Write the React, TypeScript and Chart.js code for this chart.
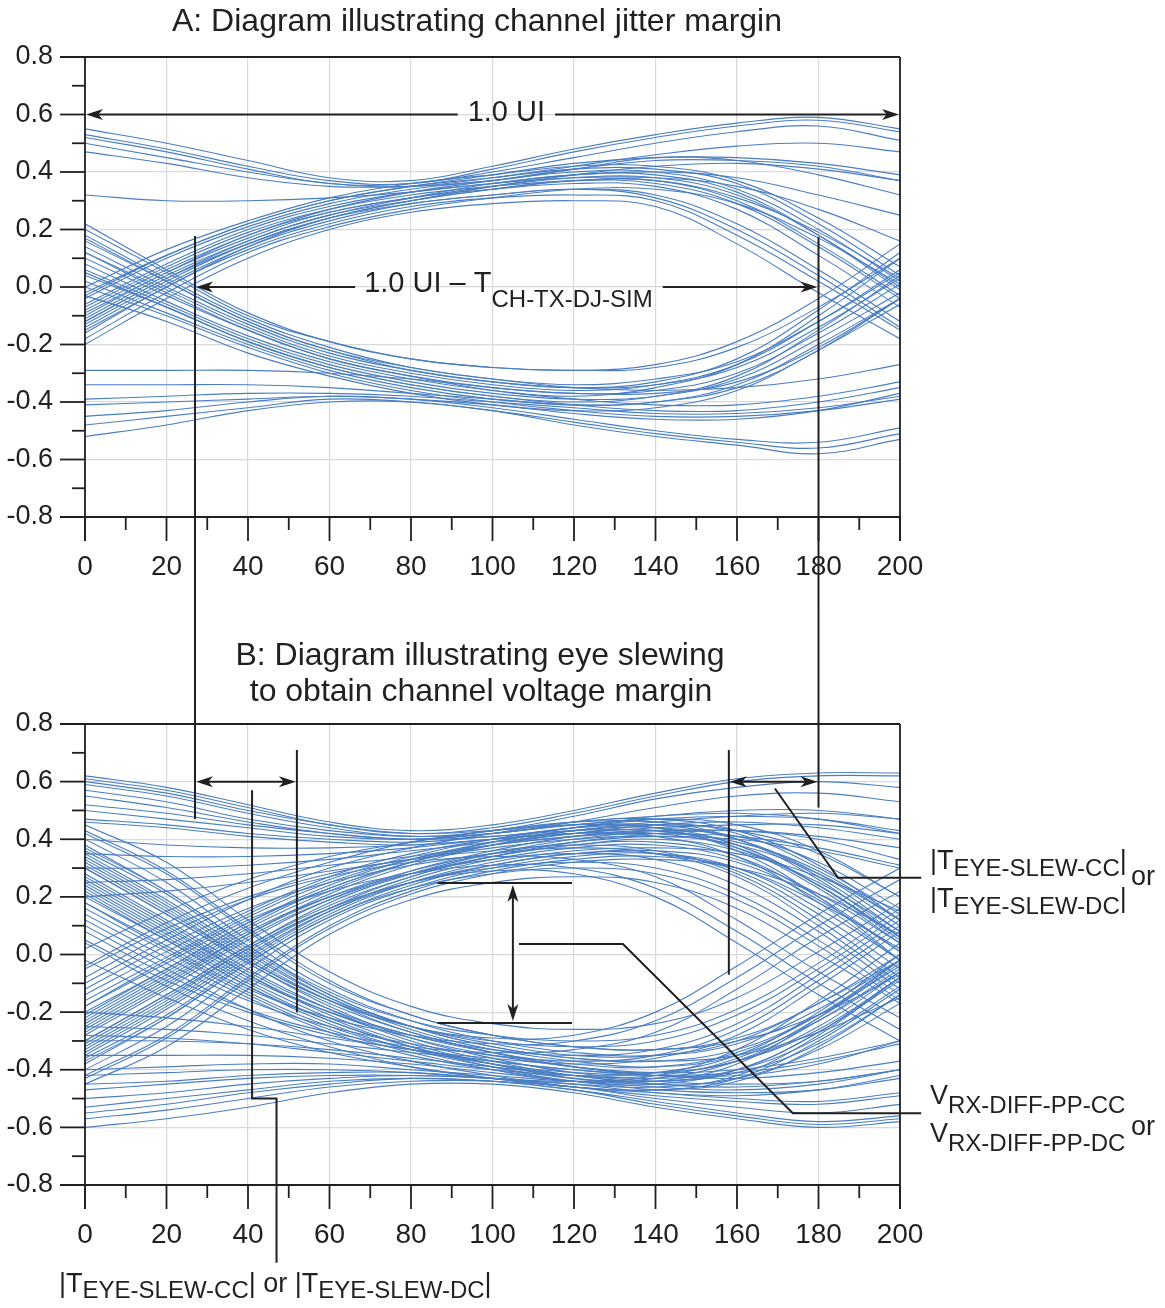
import React, { useEffect, useRef } from "react";
import { Chart, registerables } from "chart.js";

Chart.register(...registerables);

// ---------- data ----------
const xSamples = [0, 20, 40, 60, 80, 100, 120, 140, 160, 180, 200];

const titleA = "A: Diagram illustrating channel jitter margin";
const titleB = ["B: Diagram illustrating eye slewing", "to obtain channel voltage margin"];

// Chart A traces: values at xSamples
const aTopRail = [
  [0.55, 0.50, 0.44, 0.38, 0.37, 0.42, 0.48, 0.53, 0.57, 0.59, 0.55],
  [0.53, 0.48, 0.42, 0.37, 0.36, 0.41, 0.47, 0.52, 0.56, 0.58, 0.54],
  [0.52, 0.47, 0.41, 0.36, 0.36, 0.40, 0.45, 0.50, 0.54, 0.56, 0.51],
  [0.50, 0.45, 0.40, 0.36, 0.35, 0.38, 0.42, 0.46, 0.49, 0.50, 0.47],
  [0.47, 0.43, 0.38, 0.35, 0.35, 0.37, 0.41, 0.45, 0.44, 0.39, 0.32],
  [0.32, 0.30, 0.30, 0.31, 0.33, 0.36, 0.38, 0.38, 0.35, 0.27, 0.16],
];

const aUpperBand = [
  [-0.20, -0.04, 0.10, 0.20, 0.26, 0.29, 0.30, 0.28, 0.15, -0.02, -0.18],
  [-0.16, 0.00, 0.13, 0.22, 0.28, 0.31, 0.32, 0.30, 0.18, 0.02, -0.15],
  [-0.13, 0.02, 0.15, 0.24, 0.29, 0.32, 0.34, 0.32, 0.22, 0.06, -0.12],
  [-0.10, 0.05, 0.17, 0.26, 0.31, 0.34, 0.36, 0.35, 0.27, 0.11, -0.07],
  [-0.07, 0.07, 0.19, 0.27, 0.32, 0.35, 0.37, 0.37, 0.30, 0.15, -0.03],
  [-0.04, 0.10, 0.21, 0.29, 0.34, 0.37, 0.40, 0.40, 0.34, 0.20, 0.02],
  [0.00, 0.13, 0.23, 0.31, 0.36, 0.39, 0.42, 0.42, 0.37, 0.24, 0.07],
  [-0.18, -0.02, 0.12, 0.21, 0.27, 0.31, 0.34, 0.34, 0.29, 0.17, 0.01],
  [-0.12, 0.03, 0.15, 0.24, 0.30, 0.34, 0.37, 0.36, 0.29, 0.14, -0.04],
  [-0.09, 0.05, 0.18, 0.26, 0.31, 0.35, 0.38, 0.38, 0.32, 0.18, 0.00],
  [-0.06, 0.08, 0.20, 0.28, 0.33, 0.36, 0.39, 0.39, 0.33, 0.18, -0.01],
  [-0.14, 0.01, 0.14, 0.23, 0.29, 0.32, 0.34, 0.31, 0.20, 0.04, -0.14],
  [-0.02, 0.11, 0.22, 0.30, 0.35, 0.38, 0.41, 0.41, 0.36, 0.22, 0.04],
  [-0.11, 0.04, 0.16, 0.25, 0.30, 0.34, 0.37, 0.37, 0.31, 0.19, 0.03],
  [-0.15, 0.00, 0.14, 0.24, 0.30, 0.35, 0.39, 0.42, 0.43, 0.41, 0.37],
  [-0.08, 0.06, 0.18, 0.27, 0.33, 0.37, 0.41, 0.44, 0.44, 0.42, 0.37],
  [-0.03, 0.11, 0.22, 0.30, 0.35, 0.39, 0.43, 0.45, 0.45, 0.43, 0.39],
  [-0.12, 0.03, 0.16, 0.25, 0.31, 0.36, 0.39, 0.40, 0.38, 0.32, 0.25],
];

const aLowerBand = [
  [0.22, 0.06, -0.09, -0.19, -0.25, -0.28, -0.29, -0.28, -0.21, -0.07, 0.10],
  [0.18, 0.03, -0.11, -0.21, -0.28, -0.32, -0.34, -0.32, -0.26, -0.12, 0.05],
  [0.14, 0.00, -0.13, -0.23, -0.29, -0.33, -0.35, -0.34, -0.28, -0.14, 0.03],
  [0.10, -0.03, -0.15, -0.25, -0.31, -0.35, -0.37, -0.36, -0.30, -0.16, 0.01],
  [0.06, -0.06, -0.18, -0.27, -0.33, -0.37, -0.39, -0.38, -0.32, -0.18, -0.02],
  [0.02, -0.09, -0.20, -0.29, -0.35, -0.39, -0.41, -0.40, -0.34, -0.20, -0.04],
  [-0.03, -0.12, -0.23, -0.31, -0.37, -0.41, -0.43, -0.42, -0.36, -0.22, -0.06],
  [0.16, 0.02, -0.12, -0.22, -0.29, -0.33, -0.35, -0.33, -0.25, -0.08, 0.12],
  [0.08, -0.05, -0.17, -0.26, -0.32, -0.36, -0.38, -0.35, -0.27, -0.10, 0.10],
  [0.12, -0.01, -0.14, -0.24, -0.30, -0.34, -0.36, -0.34, -0.27, -0.12, 0.06],
  [0.20, 0.05, -0.10, -0.19, -0.25, -0.28, -0.29, -0.27, -0.19, -0.04, 0.15],
  [0.04, -0.07, -0.19, -0.28, -0.34, -0.38, -0.40, -0.38, -0.31, -0.15, 0.04],
  [0.12, -0.02, -0.15, -0.25, -0.31, -0.36, -0.39, -0.41, -0.41, -0.38, -0.33],
  [0.05, -0.07, -0.19, -0.28, -0.34, -0.38, -0.41, -0.43, -0.43, -0.40, -0.35],
  [0.00, -0.10, -0.21, -0.30, -0.36, -0.40, -0.43, -0.45, -0.45, -0.43, -0.39],
  [0.17, 0.02, -0.12, -0.22, -0.28, -0.32, -0.35, -0.36, -0.35, -0.32, -0.27],
];

const aBottomRail = [
  [-0.29, -0.29, -0.29, -0.30, -0.32, -0.35, -0.37, -0.37, -0.33, -0.21, -0.04],
  [-0.34, -0.34, -0.34, -0.35, -0.37, -0.39, -0.41, -0.40, -0.35, -0.22, -0.04],
  [-0.39, -0.38, -0.37, -0.37, -0.38, -0.40, -0.42, -0.44, -0.44, -0.42, -0.38],
  [-0.45, -0.43, -0.40, -0.38, -0.39, -0.42, -0.46, -0.50, -0.53, -0.54, -0.49],
  [-0.48, -0.45, -0.42, -0.39, -0.40, -0.43, -0.47, -0.51, -0.54, -0.56, -0.51],
  [-0.52, -0.48, -0.43, -0.40, -0.40, -0.43, -0.48, -0.52, -0.55, -0.58, -0.53],
  [-0.41, -0.40, -0.39, -0.38, -0.39, -0.41, -0.44, -0.46, -0.46, -0.43, -0.37],
];

// Chart B traces
const bTopRail = [
  [0.62, 0.58, 0.52, 0.46, 0.43, 0.45, 0.50, 0.56, 0.61, 0.63, 0.63],
  [0.61, 0.57, 0.51, 0.45, 0.42, 0.44, 0.49, 0.55, 0.60, 0.62, 0.62],
  [0.59, 0.55, 0.49, 0.44, 0.41, 0.43, 0.48, 0.54, 0.58, 0.60, 0.58],
  [0.57, 0.53, 0.47, 0.43, 0.41, 0.42, 0.46, 0.51, 0.55, 0.56, 0.53],
  [0.52, 0.49, 0.45, 0.42, 0.40, 0.41, 0.44, 0.48, 0.50, 0.50, 0.47],
  [0.50, 0.47, 0.44, 0.41, 0.40, 0.42, 0.45, 0.47, 0.45, 0.36, 0.20],
  [0.47, 0.45, 0.42, 0.40, 0.39, 0.41, 0.43, 0.43, 0.38, 0.24, 0.05],
  [0.46, 0.44, 0.41, 0.39, 0.38, 0.40, 0.42, 0.41, 0.34, 0.18, -0.02],
  [0.55, 0.51, 0.46, 0.42, 0.40, 0.42, 0.45, 0.46, 0.40, 0.26, 0.06],
  [0.60, 0.56, 0.50, 0.45, 0.42, 0.43, 0.45, 0.44, 0.36, 0.20, -0.02],
  [0.40, 0.38, 0.37, 0.37, 0.38, 0.40, 0.43, 0.46, 0.48, 0.49, 0.47],
  [0.30, 0.30, 0.31, 0.33, 0.36, 0.39, 0.42, 0.44, 0.45, 0.45, 0.42],
  [0.25, 0.26, 0.28, 0.31, 0.34, 0.38, 0.41, 0.43, 0.43, 0.40, 0.33],
  [0.20, 0.22, 0.25, 0.29, 0.33, 0.37, 0.40, 0.41, 0.38, 0.28, 0.12],
  [0.35, 0.34, 0.34, 0.35, 0.37, 0.40, 0.42, 0.42, 0.37, 0.24, 0.06],
];

const bUpperBand = [
  [-0.45, -0.32, -0.12, 0.07, 0.19, 0.25, 0.27, 0.25, 0.16, 0.00, -0.17],
  [-0.42, -0.28, -0.08, 0.10, 0.22, 0.29, 0.33, 0.34, 0.30, 0.18, 0.02],
  [-0.40, -0.25, -0.05, 0.12, 0.23, 0.30, 0.34, 0.35, 0.30, 0.16, -0.02],
  [-0.37, -0.22, -0.03, 0.13, 0.24, 0.31, 0.35, 0.36, 0.32, 0.19, 0.01],
  [-0.35, -0.19, -0.01, 0.15, 0.26, 0.33, 0.37, 0.38, 0.33, 0.21, 0.04],
  [-0.33, -0.17, 0.01, 0.16, 0.27, 0.34, 0.38, 0.40, 0.36, 0.25, 0.08],
  [-0.30, -0.14, 0.03, 0.18, 0.28, 0.35, 0.40, 0.42, 0.39, 0.29, 0.12],
  [-0.28, -0.12, 0.05, 0.19, 0.29, 0.36, 0.41, 0.43, 0.41, 0.32, 0.16],
  [-0.26, -0.10, 0.07, 0.21, 0.31, 0.38, 0.43, 0.45, 0.43, 0.35, 0.20],
  [-0.23, -0.07, 0.09, 0.22, 0.32, 0.39, 0.44, 0.45, 0.40, 0.28, 0.10],
  [-0.20, -0.05, 0.11, 0.23, 0.32, 0.38, 0.42, 0.43, 0.37, 0.23, 0.04],
  [-0.16, -0.01, 0.14, 0.26, 0.34, 0.40, 0.44, 0.44, 0.38, 0.24, 0.06],
  [-0.38, -0.22, -0.03, 0.13, 0.23, 0.28, 0.30, 0.28, 0.19, 0.03, -0.16],
  [-0.31, -0.15, 0.02, 0.16, 0.25, 0.30, 0.32, 0.30, 0.21, 0.05, -0.14],
  [-0.24, -0.08, 0.08, 0.20, 0.28, 0.33, 0.35, 0.33, 0.24, 0.08, -0.12],
  [-0.12, 0.03, 0.16, 0.25, 0.31, 0.35, 0.37, 0.35, 0.27, 0.10, -0.10],
  [-0.05, 0.09, 0.20, 0.28, 0.33, 0.36, 0.38, 0.36, 0.28, 0.12, -0.08],
  [-0.34, -0.18, 0.00, 0.15, 0.25, 0.31, 0.35, 0.35, 0.29, 0.14, -0.05],
  [-0.27, -0.11, 0.06, 0.19, 0.28, 0.34, 0.38, 0.39, 0.34, 0.20, 0.01],
  [-0.21, -0.05, 0.11, 0.24, 0.33, 0.39, 0.43, 0.44, 0.40, 0.27, 0.08],
  [-0.10, 0.05, 0.19, 0.30, 0.37, 0.42, 0.46, 0.47, 0.43, 0.31, 0.12],
  [0.02, 0.15, 0.26, 0.34, 0.39, 0.43, 0.46, 0.46, 0.42, 0.30, 0.14],
  [-0.43, -0.29, -0.09, 0.09, 0.21, 0.28, 0.32, 0.33, 0.30, 0.21, 0.07],
  [-0.36, -0.21, -0.02, 0.14, 0.25, 0.32, 0.36, 0.37, 0.35, 0.27, 0.15],
  [-0.30, -0.14, 0.03, 0.17, 0.27, 0.34, 0.39, 0.42, 0.43, 0.41, 0.37],
  [-0.22, -0.06, 0.10, 0.23, 0.32, 0.38, 0.42, 0.45, 0.46, 0.44, 0.40],
  [-0.14, 0.01, 0.15, 0.27, 0.35, 0.40, 0.44, 0.47, 0.48, 0.47, 0.43],
  [-0.04, 0.11, 0.23, 0.32, 0.39, 0.43, 0.46, 0.48, 0.49, 0.47, 0.42],
  [-0.25, -0.09, 0.07, 0.20, 0.29, 0.35, 0.39, 0.41, 0.40, 0.36, 0.30],
  [-0.18, -0.02, 0.13, 0.25, 0.33, 0.38, 0.41, 0.42, 0.41, 0.37, 0.31],
  [-0.32, -0.16, 0.02, 0.16, 0.25, 0.29, 0.28, 0.20, 0.04, -0.14, -0.30],
  [-0.18, -0.03, 0.12, 0.22, 0.28, 0.31, 0.30, 0.23, 0.08, -0.10, -0.26],
  [-0.08, 0.07, 0.19, 0.27, 0.32, 0.34, 0.33, 0.27, 0.12, -0.06, -0.22],
];

const bLowerBand = [
  [0.45, 0.32, 0.12, -0.06, -0.18, -0.24, -0.26, -0.24, -0.15, 0.01, 0.18],
  [0.42, 0.28, 0.08, -0.10, -0.21, -0.28, -0.32, -0.33, -0.29, -0.17, 0.00],
  [0.40, 0.25, 0.05, -0.12, -0.23, -0.30, -0.34, -0.35, -0.31, -0.19, -0.02],
  [0.37, 0.22, 0.03, -0.14, -0.25, -0.32, -0.36, -0.37, -0.33, -0.21, -0.04],
  [0.35, 0.19, 0.01, -0.15, -0.26, -0.33, -0.37, -0.39, -0.35, -0.23, -0.06],
  [0.33, 0.17, -0.01, -0.16, -0.27, -0.34, -0.39, -0.41, -0.37, -0.26, -0.08],
  [0.30, 0.14, -0.03, -0.18, -0.29, -0.36, -0.41, -0.43, -0.40, -0.29, -0.11],
  [0.28, 0.12, -0.05, -0.19, -0.30, -0.37, -0.42, -0.44, -0.41, -0.31, -0.14],
  [0.26, 0.10, -0.07, -0.21, -0.31, -0.38, -0.43, -0.45, -0.43, -0.33, -0.17],
  [0.23, 0.07, -0.09, -0.22, -0.32, -0.39, -0.44, -0.45, -0.40, -0.27, -0.08],
  [0.20, 0.05, -0.11, -0.23, -0.32, -0.38, -0.42, -0.42, -0.36, -0.22, -0.03],
  [0.16, 0.01, -0.14, -0.26, -0.34, -0.40, -0.44, -0.43, -0.37, -0.23, -0.05],
  [0.38, 0.22, 0.03, -0.13, -0.23, -0.28, -0.30, -0.28, -0.19, -0.03, 0.16],
  [0.31, 0.15, -0.02, -0.16, -0.25, -0.30, -0.32, -0.30, -0.21, -0.05, 0.14],
  [0.24, 0.08, -0.08, -0.20, -0.28, -0.33, -0.35, -0.33, -0.24, -0.07, 0.12],
  [0.12, -0.03, -0.16, -0.25, -0.31, -0.35, -0.37, -0.35, -0.26, -0.09, 0.10],
  [0.05, -0.09, -0.20, -0.28, -0.33, -0.36, -0.38, -0.36, -0.28, -0.11, 0.08],
  [0.34, 0.18, 0.00, -0.15, -0.25, -0.31, -0.35, -0.35, -0.30, -0.17, -0.02],
  [0.27, 0.11, -0.06, -0.19, -0.28, -0.34, -0.38, -0.39, -0.34, -0.21, -0.02],
  [0.21, 0.05, -0.11, -0.24, -0.33, -0.39, -0.43, -0.44, -0.40, -0.27, -0.09],
  [0.10, -0.05, -0.19, -0.30, -0.37, -0.42, -0.46, -0.47, -0.44, -0.32, -0.14],
  [-0.02, -0.15, -0.26, -0.34, -0.39, -0.43, -0.46, -0.47, -0.43, -0.30, -0.12],
  [0.43, 0.29, 0.09, -0.09, -0.21, -0.28, -0.32, -0.33, -0.30, -0.21, -0.07],
  [0.36, 0.21, 0.02, -0.14, -0.25, -0.32, -0.36, -0.37, -0.35, -0.27, -0.15],
  [0.30, 0.14, -0.03, -0.17, -0.27, -0.34, -0.39, -0.42, -0.43, -0.41, -0.37],
  [0.22, 0.06, -0.10, -0.23, -0.32, -0.38, -0.42, -0.45, -0.46, -0.44, -0.40],
  [0.14, -0.01, -0.15, -0.27, -0.35, -0.40, -0.44, -0.47, -0.48, -0.47, -0.43],
  [0.04, -0.11, -0.23, -0.32, -0.39, -0.43, -0.46, -0.48, -0.49, -0.47, -0.42],
  [0.25, 0.09, -0.07, -0.20, -0.29, -0.35, -0.39, -0.41, -0.40, -0.36, -0.30],
  [0.18, 0.02, -0.13, -0.25, -0.33, -0.38, -0.41, -0.42, -0.41, -0.37, -0.31],
  [0.32, 0.16, -0.02, -0.16, -0.25, -0.29, -0.28, -0.20, -0.04, 0.14, 0.30],
  [0.18, 0.03, -0.12, -0.22, -0.28, -0.31, -0.30, -0.23, -0.08, 0.10, 0.26],
  [0.08, -0.07, -0.19, -0.27, -0.32, -0.34, -0.33, -0.27, -0.12, 0.06, 0.22],
];

const bBottomRail = [
  [-0.60, -0.57, -0.53, -0.48, -0.45, -0.45, -0.48, -0.53, -0.57, -0.60, -0.58],
  [-0.57, -0.54, -0.50, -0.46, -0.44, -0.44, -0.47, -0.51, -0.55, -0.58, -0.56],
  [-0.53, -0.50, -0.47, -0.44, -0.43, -0.44, -0.46, -0.50, -0.53, -0.55, -0.52],
  [-0.47, -0.45, -0.43, -0.42, -0.42, -0.43, -0.45, -0.48, -0.50, -0.51, -0.48],
  [-0.45, -0.44, -0.42, -0.41, -0.41, -0.43, -0.45, -0.46, -0.42, -0.28, -0.08],
  [-0.42, -0.41, -0.40, -0.40, -0.41, -0.43, -0.44, -0.42, -0.33, -0.16, 0.04],
  [-0.40, -0.39, -0.38, -0.38, -0.40, -0.42, -0.44, -0.44, -0.38, -0.22, -0.02],
  [-0.35, -0.35, -0.35, -0.36, -0.38, -0.41, -0.44, -0.46, -0.47, -0.45, -0.40],
  [-0.30, -0.30, -0.31, -0.33, -0.36, -0.39, -0.42, -0.44, -0.45, -0.44, -0.40],
  [-0.25, -0.26, -0.28, -0.31, -0.34, -0.37, -0.40, -0.42, -0.42, -0.38, -0.30],
  [-0.55, -0.52, -0.48, -0.45, -0.43, -0.44, -0.47, -0.52, -0.56, -0.59, -0.57],
  [-0.50, -0.48, -0.45, -0.43, -0.42, -0.43, -0.46, -0.49, -0.51, -0.52, -0.49],
  [-0.20, -0.22, -0.25, -0.29, -0.33, -0.37, -0.40, -0.41, -0.37, -0.25, -0.06],
  [-0.28, -0.29, -0.31, -0.34, -0.37, -0.40, -0.42, -0.41, -0.35, -0.20, 0.00],
];

// ---------- styles ----------
const INK = "#231f20";
const TRACE = "#4a7ec3";
const GRID = "#d9d9d9";
const FAMILY = '"Liberation Sans", Arial, Helvetica, sans-serif';
const font = (s: number) => `${s}px ${FAMILY}`;
const B_TOP = 610;

type Part = { t: string; sub?: boolean };

function seg(ctx: CanvasRenderingContext2D, pts: number[][]) {
  ctx.beginPath();
  ctx.moveTo(pts[0][0], pts[0][1]);
  for (let i = 1; i < pts.length; i++) ctx.lineTo(pts[i][0], pts[i][1]);
  ctx.stroke();
}

function head(ctx: CanvasRenderingContext2D, tx: number, ty: number, dx: number, dy: number) {
  const L = 17, W = 5.5;
  const bx = tx - dx * L, by = ty - dy * L;
  const nx = -dy, ny = dx;
  ctx.beginPath();
  ctx.moveTo(tx, ty);
  ctx.lineTo(bx + nx * W, by + ny * W);
  ctx.lineTo(tx - dx * L * 0.72, ty - dy * L * 0.72);
  ctx.lineTo(bx - nx * W, by - ny * W);
  ctx.closePath();
  ctx.fill();
}

function dbl(ctx: CanvasRenderingContext2D, x1: number, y1: number, x2: number, y2: number) {
  const len = Math.hypot(x2 - x1, y2 - y1);
  const dx = (x2 - x1) / len, dy = (y2 - y1) / len;
  seg(ctx, [[x1 + dx * 8, y1 + dy * 8], [x2 - dx * 8, y2 - dy * 8]]);
  head(ctx, x2, y2, dx, dy);
  head(ctx, x1, y1, -dx, -dy);
}

function rich(ctx: CanvasRenderingContext2D, x: number, y: number, parts: Part[], main: number, sub: number, subDy: number, measureOnly = false) {
  let cx = x;
  ctx.textAlign = "left";
  ctx.textBaseline = "alphabetic";
  for (const p of parts) {
    ctx.font = font(p.sub ? sub : main);
    if (!measureOnly) ctx.fillText(p.t, cx, p.sub ? y + subDy : y);
    cx += ctx.measureText(p.t).width;
  }
  return cx - x;
}

function drawFrame(chart: any) {
  const ctx: CanvasRenderingContext2D = chart.ctx;
  const { left, right, top, bottom } = chart.chartArea;
  const sx = (v: number) => chart.scales.x.getPixelForValue(v);
  const sy = (v: number) => chart.scales.y.getPixelForValue(v);
  ctx.save();
  ctx.strokeStyle = INK;
  ctx.lineWidth = 1.8;
  ctx.lineCap = "butt";
  seg(ctx, [[left - 25, top], [right, top]]);
  seg(ctx, [[left - 25, bottom], [right, bottom]]);
  seg(ctx, [[left, top], [left, bottom + 24]]);
  seg(ctx, [[right, top], [right, bottom + 24]]);
  for (let k = -8; k <= 8; k++) {
    const py = sy(k / 10);
    seg(ctx, [[left - (k % 2 === 0 ? 25 : 13), py], [left, py]]);
  }
  for (let k = 0; k <= 20; k++) {
    const px = sx(k * 10);
    seg(ctx, [[px, bottom], [px, bottom + (k % 2 === 0 ? 24 : 13)]]);
  }
  ctx.restore();
}

function decorateA(chart: any) {
  const ctx: CanvasRenderingContext2D = chart.ctx;
  const sx = (v: number) => chart.scales.x.getPixelForValue(v);
  const sy = (v: number) => chart.scales.y.getPixelForValue(v);
  drawFrame(chart);
  ctx.save();
  ctx.fillStyle = INK;
  ctx.strokeStyle = INK;
  ctx.lineWidth = 2;
  // title
  ctx.font = font(32);
  ctx.textAlign = "center";
  ctx.textBaseline = "alphabetic";
  ctx.fillText(titleA, 477, 31);

  // 1.0 UI arrow
  const yUI = sy(0.6);
  const uiParts: Part[] = [{ t: "1.0 UI" }];
  const wUI = rich(ctx, 0, 0, uiParts, 29, 24, 0, true);
  const cUI = sx(103.4);
  rich(ctx, cUI - wUI / 2, yUI + 6, uiParts, 29, 24, 0);
  seg(ctx, [[sx(0) + 8, yUI], [cUI - wUI / 2 - 10, yUI]]);
  seg(ctx, [[cUI + wUI / 2 + 10, yUI], [sx(200) - 8, yUI]]);
  head(ctx, sx(0) + 1, yUI, -1, 0);
  head(ctx, sx(200) - 1, yUI, 1, 0);

  // 1.0 UI - T_CH-TX-DJ-SIM arrow
  const y0 = sy(0);
  const djParts: Part[] = [{ t: "1.0 UI \u2013 T" }, { t: "CH-TX-DJ-SIM", sub: true }];
  const x0 = sx(68.5);
  const wDJ = rich(ctx, x0, y0 + 5, djParts, 29, 24, 15);
  seg(ctx, [[sx(27) + 8, y0], [x0 - 9, y0]]);
  seg(ctx, [[x0 + wDJ + 10, y0], [sx(180) - 8, y0]]);
  head(ctx, sx(27) + 1, y0, -1, 0);
  head(ctx, sx(180) - 1, y0, 1, 0);

  // markers running down into chart B
  seg(ctx, [[sx(27), sy(0.177)], [sx(27), chart.height]]);
  seg(ctx, [[sx(180), sy(0.174)], [sx(180), chart.height]]);
  ctx.restore();
}

function decorateB(chart: any) {
  const ctx: CanvasRenderingContext2D = chart.ctx;
  const sx = (v: number) => chart.scales.x.getPixelForValue(v);
  const sy = (v: number) => chart.scales.y.getPixelForValue(v);
  drawFrame(chart);
  ctx.save();
  ctx.fillStyle = INK;
  ctx.strokeStyle = INK;
  ctx.lineWidth = 2;
  // title
  ctx.font = font(32);
  ctx.textAlign = "center";
  ctx.textBaseline = "alphabetic";
  ctx.fillText(titleB[0], 480, 665 - B_TOP);
  ctx.fillText(titleB[1], 481, 701 - B_TOP);

  // markers from chart A
  seg(ctx, [[sx(27), 0], [sx(27), sy(0.47)]]);
  seg(ctx, [[sx(180), 0], [sx(180), sy(0.51)]]);

  // left slew
  dbl(ctx, sx(27) + 1, sy(0.6), sx(52) - 1, sy(0.6));
  seg(ctx, [[sx(52), sy(0.71)], [sx(52), sy(-0.2)]]);
  seg(ctx, [[sx(41), sy(0.57)], [sx(41), sy(-0.5)], [sx(47), sy(-0.5)], [sx(47), sy(-1.07)]]);

  // right slew
  dbl(ctx, sx(158) + 1, sy(0.6), sx(180) - 1, sy(0.6));
  seg(ctx, [[sx(158), sy(0.71)], [sx(158), sy(-0.07)]]);
  seg(ctx, [[sx(169.3), sy(0.576)], [sx(184.8), sy(0.266)], [sx(205.2), sy(0.266)]]);

  // eye height
  seg(ctx, [[sx(86.5), sy(0.248)], [sx(119.5), sy(0.248)]]);
  seg(ctx, [[sx(86.5), sy(-0.238)], [sx(119.5), sy(-0.238)]]);
  dbl(ctx, sx(105), sy(0.248) + 2, sx(105), sy(-0.238) - 2);
  seg(ctx, [[sx(106.5), sy(0.0365)], [sx(132), sy(0.0365)], [sx(173.7), sy(-0.551)], [sx(205.2), sy(-0.551)]]);

  // labels
  const lx = 930;
  rich(ctx, lx, 869 - B_TOP, [{ t: "|T" }, { t: "EYE-SLEW-CC", sub: true }, { t: "|" }], 27, 24, 7);
  rich(ctx, lx, 907 - B_TOP, [{ t: "|T" }, { t: "EYE-SLEW-DC", sub: true }, { t: "|" }], 27, 24, 7);
  rich(ctx, 1131, 885 - B_TOP, [{ t: "or" }], 27, 24, 0);

  rich(ctx, lx, 1104 - B_TOP, [{ t: "V" }, { t: "RX-DIFF-PP-CC", sub: true }], 27, 24, 9);
  rich(ctx, lx, 1142 - B_TOP, [{ t: "V" }, { t: "RX-DIFF-PP-DC", sub: true }], 27, 24, 9);
  rich(ctx, 1131, 1135 - B_TOP, [{ t: "or" }], 27, 24, 0);

  rich(
    ctx,
    59,
    1292 - B_TOP,
    [{ t: "|T" }, { t: "EYE-SLEW-CC", sub: true }, { t: "| or |T" }, { t: "EYE-SLEW-DC", sub: true }, { t: "|" }],
    27,
    24,
    6
  );
  ctx.restore();
}

function tickFmt(v: any) {
  const n = Number(v);
  return (Math.abs(n) < 1e-9 ? 0 : n).toFixed(1);
}

function makeConfig(traces: number[][], topPad: number, xAxisH: number, decorate: (c: any) => void): any {
  return {
    type: "line",
    data: {
      datasets: traces.map((vals) => ({
        data: vals.map((y, i) => ({ x: xSamples[i], y })),
        borderColor: TRACE,
        borderWidth: 1.1,
        pointRadius: 0,
        tension: 0.4,
        fill: false,
      })),
    },
    options: {
      animation: false,
      responsive: false,
      events: [],
      layout: { padding: { top: topPad, right: 265, bottom: 0, left: 0 } },
      plugins: { legend: { display: false }, tooltip: { enabled: false }, title: { display: false } },
      scales: {
        x: {
          type: "linear",
          min: 0,
          max: 200,
          afterFit: (s: any) => {
            s.height = xAxisH;
          },
          ticks: { stepSize: 20, padding: 33, color: INK, font: { size: 28, family: FAMILY }, maxRotation: 0, autoSkip: false },
          grid: { color: GRID, lineWidth: 1.2, drawTicks: false },
          border: { display: false },
        },
        y: {
          type: "linear",
          min: -0.8,
          max: 0.8,
          afterFit: (s: any) => {
            s.width = 85;
          },
          ticks: { stepSize: 0.2, padding: 32, color: INK, font: { size: 27, family: FAMILY }, callback: tickFmt },
          grid: { color: GRID, lineWidth: 1.2, drawTicks: false },
          border: { display: false },
        },
      },
    },
    plugins: [{ id: "decor", afterDraw: decorate }],
  };
}

export default function App() {
  const refA = useRef<HTMLCanvasElement>(null);
  const refB = useRef<HTMLCanvasElement>(null);
  useEffect(() => {
    const tracesA = [...aTopRail, ...aUpperBand, ...aLowerBand, ...aBottomRail];
    const tracesB = [...bTopRail, ...bUpperBand, ...bLowerBand, ...bBottomRail];
    const a = new Chart(refA.current as HTMLCanvasElement, makeConfig(tracesA, 57, 93, decorateA));
    const b = new Chart(refB.current as HTMLCanvasElement, makeConfig(tracesB, 114, 123, decorateB));
    return () => {
      a.destroy();
      b.destroy();
    };
  }, []);
  return (
    <div style={{ position: "absolute", left: 0, top: 0, width: 1165, height: 1308, background: "#fff" }}>
      <canvas ref={refA} width={1165} height={610} style={{ position: "absolute", left: 0, top: 0 }} />
      <canvas ref={refB} width={1165} height={698} style={{ position: "absolute", left: 0, top: B_TOP }} />
    </div>
  );
}
